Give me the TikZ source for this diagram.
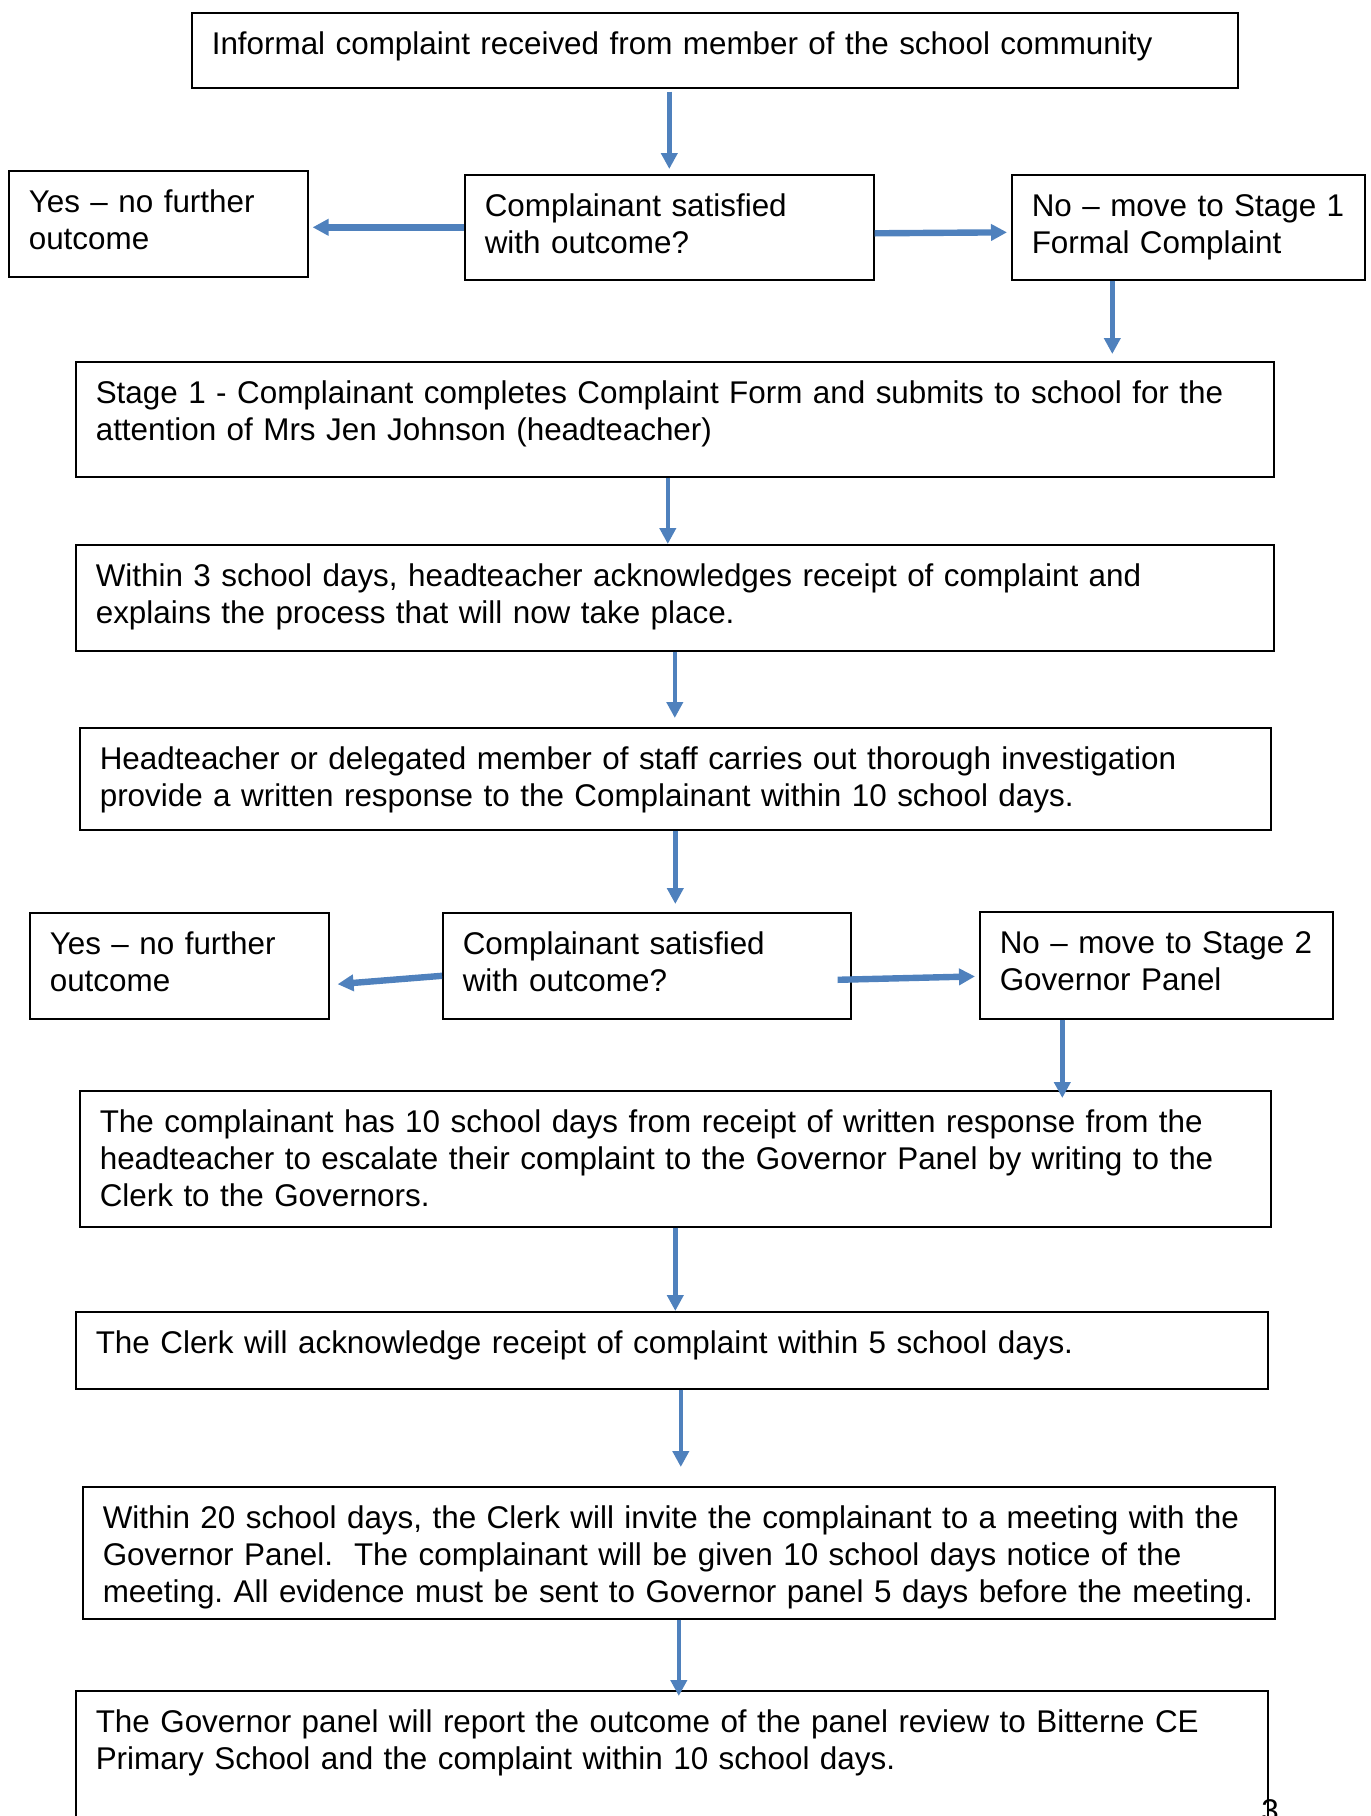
\documentclass[tikz,border=0pt]{standalone}
\usepackage{fontspec}
\setmainfont{Liberation Sans}
\usetikzlibrary{arrows.meta}
\definecolor{arrowblue}{RGB}{79,129,189}

\begin{document}
\begin{tikzpicture}[x=0.5pt, y=-0.5pt,
    box/.style = {draw, line width=0.8pt, rectangle, anchor=north west, align=left, inner xsep=10pt, inner ysep=6pt, text height=15pt, font=\fontsize{15.7}{18.4}\selectfont\frenchspacing},
    flow/.style = {draw=arrowblue, line width=2.2pt, -{Triangle[width=8pt,length=8pt]}, shorten >=2pt},
    side/.style = {flow, line width=3.2pt}]
    \useasboundingbox (0,0) rectangle (1371,1816);
    \clip (0,0) rectangle (1371,1816);

    % informal stage
    \node[box, text width=503pt, text depth=10.5pt] (informal) at (191,12) {Informal complaint received from member of the school community};
    \node[box, text width=129.5pt, text depth=26pt] (yes1) at (8,170) {Yes – no further\\outcome};
    \node[box, text width=184.5pt, text depth=25.5pt] (sat1) at (464,174) {Complainant satisfied\\with outcome?};
    \node[box, text width=156.5pt, text depth=25.5pt] (no1) at (1011,174) {No – move to Stage 1\\Formal Complaint};

    % stage 1
    \node[box, text width=579pt, text depth=30.5pt] (stage1) at (75,361) {Stage 1 - Complainant completes Complaint Form and submits to school for the\\attention of Mrs Jen Johnson (headteacher)};
    \node[box, text width=579pt, text depth=26pt] (ack) at (75,544) {Within 3 school days, headteacher acknowledges receipt of complaint and\\explains the process that will now take place.};
    \node[box, text width=575.5pt, text depth=24pt] (invest) at (79,727) {Headteacher or delegated member of staff carries out thorough investigation\\provide a written response to the Complainant within 10 school days.};
    \node[box, text width=129.5pt, text depth=26pt] (yes2) at (29,912) {Yes – no further\\outcome};
    \node[box, text width=184pt, text depth=26pt] (sat2) at (442,912) {Complainant satisfied\\with outcome?};
    \node[box, text width=156.5pt, text depth=26.5pt] (no2) at (979,911) {No – move to Stage 2\\Governor Panel};

    % stage 2
    \node[box, text width=575.5pt, text depth=41pt] (escalate) at (79,1090) {The complainant has 10 school days from receipt of written response from the\\headteacher to escalate their complaint to the Governor Panel by writing to the\\Clerk to the Governors.};
    \node[box, text width=576pt, text depth=11.5pt] (clerkack) at (75,1311) {The Clerk will acknowledge receipt of complaint within 5 school days.};
    \node[box, text width=576pt, text depth=39pt] (meeting) at (82,1486) {Within 20 school days, the Clerk will invite the complainant to a meeting with the\\Governor Panel.\ \ The complainant will be given 10 school days notice of the\\meeting. All evidence must be sent to Governor panel 5 days before the meeting.};
    \node[box, text width=576pt, text depth=53pt] (report) at (75,1690) {The Governor panel will report the outcome of the panel review to Bitterne CE\\Primary School and the complaint within 10 school days.};
    \node[anchor=north, inner sep=0pt, font=\fontsize{15.7}{18.4}\selectfont] (pagenum) at (1270,1799) {3};

    % arrows
    \draw[flow, shorten <=1.5pt, shorten >=2.5pt] (informal.south -| sat1.north) -- (sat1.north);
    \draw[side] (sat1.west) -- (sat1.west -| yes1.east);
    \draw[side] ([yshift=-3pt]sat1.east) -- ([yshift=-2.5pt]no1.west);
    \draw[flow, shorten >=3.5pt] ([xshift=-38pt]no1.south) -- ([xshift=-38pt]no1.south |- stage1.north);
    \draw[flow, shorten >=0pt] ([xshift=-3.5pt]stage1.south) -- ([xshift=-3.5pt]stage1.south |- ack.north);
    \draw[flow, shorten >=4.5pt] (ack.south) -- (ack.south |- invest.north);
    \draw[flow, shorten >=4pt] (invest.south) -- (invest.south |- sat2.north);
    \draw[side, shorten >=4pt] ([yshift=-5pt]sat2.west) -- ([yshift=-9.5pt]yes2.east);
    \draw[side] ([xshift=-7pt,yshift=-7pt]sat2.east) -- ([yshift=-5.5pt]no2.west);
    \draw[flow, shorten >=-4pt] ([xshift=-47pt]no2.south) -- ([xshift=-47pt]no2.south |- escalate.north);
    \draw[flow, shorten >=0pt] (escalate.south) -- (escalate.south |- clerkack.north);
    \draw[flow, shorten >=9.5pt] ([xshift=4.5pt]clerkack.south) -- ([xshift=4.5pt]clerkack.south |- meeting.north);
    \draw[flow, shorten >=-3pt] (meeting.south) -- (meeting.south |- report.north);
\end{tikzpicture}
\end{document}
